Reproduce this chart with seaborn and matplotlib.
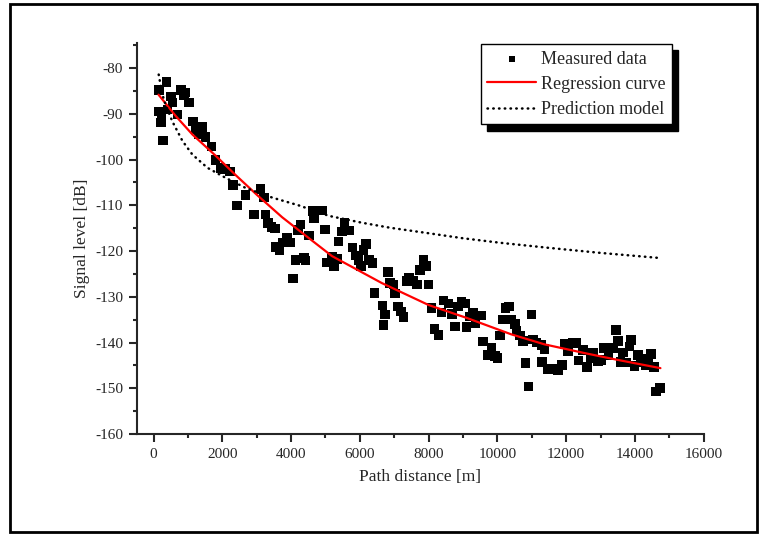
import matplotlib
matplotlib.use("Agg")
import matplotlib.pyplot as plt
from matplotlib.patches import Rectangle
from matplotlib.ticker import MultipleLocator
import seaborn as sns
import pandas as pd

# measured points (path distance [m], signal level [dB])
dist_m = [
    165, 377, 792, 890, 502, 551, 1035, 165, 406, 696, 212, 281, 1151, 1226,
    1325, 1516, 1681, 1797, 1951, 2232, 2305, 2676, 3111, 3209, 2435, 2919,
    3256, 4624, 4900, 232, 928, 1420, 2087,
    3334, 3430, 3528, 3566, 3661, 3760, 3885, 3980, 4125, 4270, 4204, 4369,
    4415, 4059, 4514, 4659, 4995, 5044, 5189, 5239, 5334, 5384, 5479, 5557,
    5702, 5789, 5885, 5963, 6039, 6108, 6175, 6271, 6370, 6427, 6813, 6880,
    6978, 7024, 6659, 6734, 6688, 7103, 7198, 7268, 7363, 7430, 7558, 7653,
    7749, 7848, 7943, 7993, 8088, 8166, 8282, 8378, 8427, 8572, 8688, 8764,
    8862, 8958, 9074, 9103, 9199, 9297, 9364, 9518, 9587, 9712, 9828, 9924,
    10002, 10068, 10167, 10234, 10330, 10408,
    10503, 10987, 10552, 10648, 10747, 11037, 11133, 11278, 11373, 10817,
    10909, 11298, 11472, 11617, 11762, 11878, 11973, 12051, 12197, 12292,
    12359, 12486, 12611, 12727, 12776, 12921, 13017, 13095, 13228, 13356,
    13452, 13501, 13576, 13646, 13741, 13837, 13886, 13982, 14080, 14176,
    14321, 14370, 14466, 14562, 14611, 14736,
]
level_db = [
    -84.8, -83.0, -84.8, -85.9, -86.2, -87.5, -87.5, -89.5, -89.0, -90.1, -91.9, -95.8, -91.7, -93.4,
    -94.5, -95.1, -97.1, -100.1, -101.8, -102.6, -105.5, -107.7, -106.4, -108.3, -110.0, -112.0,
    -112.0, -111.2, -111.1, -90.6, -85.3, -92.9, -102.1,
    -113.8, -114.7, -115.1, -119.1, -119.8, -118.1, -117.1, -118.1, -121.9, -114.2, -115.4, -121.5,
    -122.1, -126.0, -116.6, -112.7, -115.3, -122.5, -121.3, -123.3, -121.7, -117.9, -115.7, -113.8,
    -115.5, -119.2, -121.0, -122.0, -123.2, -119.7, -118.4, -122.0, -122.6, -129.2, -124.6, -127.0,
    -127.3, -129.3, -131.9, -133.9, -136.1, -132.1, -133.2, -134.4, -126.6, -125.9, -126.6, -127.3,
    -124.2, -121.9, -123.2, -127.3, -132.5, -137.1, -138.3, -133.4, -130.8, -131.5, -133.7, -136.5,
    -132.1, -131.2, -131.5, -136.6, -134.3, -133.6, -135.7, -134.1, -139.8, -142.7, -141.2, -142.9,
    -143.4, -138.5, -135.0, -132.5, -132.1, -135.0,
    -135.9, -133.9, -137.4, -138.5, -139.6, -139.3, -140.0, -140.5, -141.4, -144.5,
    -149.6, -144.2, -145.8, -145.8, -146.0, -144.9, -140.3, -142.0, -140.0, -140.1,
    -143.9, -141.7, -145.3, -143.4, -142.3, -144.0, -143.8, -141.2, -142.7, -141.2,
    -137.2, -139.6, -144.2, -142.2, -144.4, -140.9, -139.4, -145.1, -142.7, -144.2,
    -144.9, -143.6, -142.5, -145.3, -150.7, -150.0,
]

# regression curve (red) sampled from the figure
reg_x = [145, 650, 1130, 1800, 2390, 3020, 3740, 4420, 5190, 6640, 8000,
         9100, 10400, 11370, 12530, 13500, 14740]
reg_y = [-85.8, -90.5, -94.5, -99.1, -103.4, -107.8, -112.6, -116.6, -121.1,
         -127.0, -131.8, -134.6, -138.2, -140.4, -142.3, -143.8, -145.6]

# prediction model (dotted) sampled from the figure
pred_x = [150, 250, 360, 550, 840, 1130, 1570, 2100, 2680, 3450, 4220, 5100,
          6060, 6880, 8000, 9000, 10100, 11500, 13000, 14700]
pred_y = [-81.4, -85.6, -88.2, -91.7, -95.9, -98.9, -101.8, -104.0, -106.2,
          -108.3, -110.0, -112.3, -113.8, -114.9, -116.1, -117.2, -118.2,
          -119.3, -120.4, -121.5]

meas = pd.DataFrame({"dist": dist_m, "level": level_db})
reg = pd.DataFrame({"dist": reg_x, "level": reg_y})
pred = pd.DataFrame({"dist": pred_x, "level": pred_y})

sns.set_style("ticks")
plt.rcParams["font.family"] = ["Liberation Serif", "DejaVu Serif"]
plt.rcParams["axes.unicode_minus"] = False

fig = plt.figure(figsize=(7.6, 5.35), dpi=100)
ax = fig.add_axes([0.1803, 0.1888, 0.926 - 0.1803, 0.9196 - 0.1888])

sns.scatterplot(data=meas, x="dist", y="level", marker="s", s=48, color="black",
                edgecolor="none", ax=ax, label="Measured data", zorder=3)
sns.lineplot(data=reg, x="dist", y="level", color="red", lw=1.6, sort=False,
             estimator=None, ax=ax, label="Regression curve", zorder=4)
sns.lineplot(data=pred, x="dist", y="level", color="black", lw=1.8,
             ls=(0, (0.2, 2.1)), dash_capstyle="round",
             sort=False, estimator=None, ax=ax, label="Prediction model", zorder=4)

ax.set_xlim(-480, 16000)
ax.set_ylim(-160, -74.5)
ax.xaxis.set_major_locator(MultipleLocator(2000))
ax.xaxis.set_minor_locator(MultipleLocator(1000))
ax.yaxis.set_major_locator(MultipleLocator(10))
ax.yaxis.set_minor_locator(MultipleLocator(5))
ax.set_yticks(range(-160, -79, 10))

ax.tick_params(which="major", length=6, width=1.5, direction="out",
               labelsize=11, pad=4)
ax.tick_params(which="minor", length=3, width=1.5, direction="out")
for side in ["left", "bottom"]:
    ax.spines[side].set_linewidth(1.5)
sns.despine(ax=ax)

ax.set_xlabel("Path distance [m]", fontsize=12.5, labelpad=6)
ax.set_ylabel("Signal level [dB]", fontsize=12.5, labelpad=4)

leg = ax.legend(loc="upper right", bbox_to_anchor=(0.9436, 0.997),
                borderaxespad=0, fontsize=13, frameon=True, fancybox=False,
                edgecolor="black", framealpha=1, markerscale=0.6,
                handlelength=2.7, handletextpad=0.25, labelspacing=0.45,
                borderpad=0.36,
                shadow={"ox": 4.5, "oy": -4.5, "facecolor": "black",
                        "edgecolor": "black", "alpha": 1})
leg.get_frame().set_linewidth(1.0)

fig.patches.append(Rectangle((0.013, 0.006), 0.983, 0.987, transform=fig.transFigure,
                             fill=False, lw=2, ec="black"))

fig.savefig("out.png", dpi=100)
